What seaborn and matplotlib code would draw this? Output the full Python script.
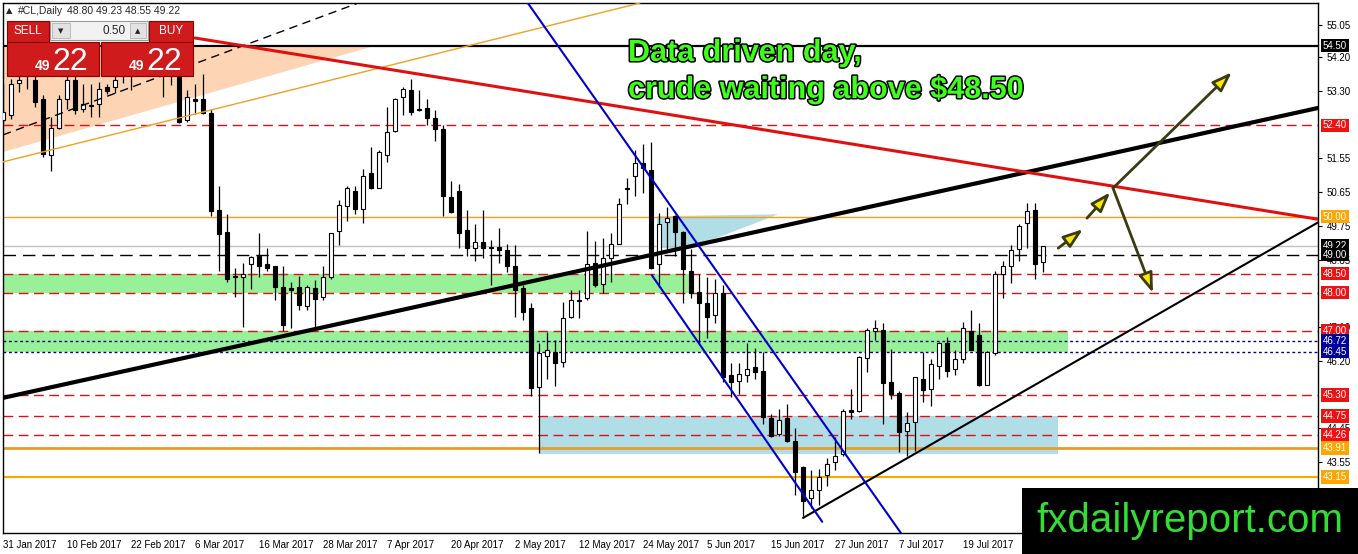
import numpy as np
import pandas as pd
import matplotlib
matplotlib.use("Agg")
import matplotlib.pyplot as plt
import matplotlib.patches as mpatches
import matplotlib.transforms as mtransforms
import matplotlib.patheffects as pe
import seaborn as sns

# ── 1. Daily candles (#CL) ───────────────────────────────────────────────
opens = [52.55, 52.68, 53.51, 53.80, 53.59, 53.09, 51.61, 52.34, 53.09, 53.59,
         52.83, 52.95, 52.96, 53.41, 53.41, 53.90, 54.30, 53.90, 54.40, 54.00,
         54.00, 53.85, 53.75, 52.54, 53.10, 53.10, 52.73, 50.17, 49.60, 48.45,
         48.40, 48.74, 48.97, 48.76, 48.69, 48.14, 48.12, 48.14, 47.65, 48.11,
         47.88, 48.40, 49.63, 50.28, 50.67, 50.20, 51.14, 50.75, 51.63, 52.26,
         53.15, 53.33, 52.80, 52.85, 52.60, 52.30, 50.51, 50.67, 49.65, 49.18,
         49.34, 49.20, 49.20, 49.13, 48.71, 48.12, 47.59, 45.51, 46.34, 46.45,
         46.18, 47.36, 47.78, 47.85, 48.79, 48.22, 48.92, 49.29, 50.72, 51.06,
         51.42, 51.22, 48.74, 49.86, 50.02, 49.60, 48.58, 48.01, 47.72, 47.41,
         47.98, 45.82, 45.68, 45.82, 46.03, 45.95, 44.70, 44.28, 44.70, 44.10,
         43.42, 42.59, 42.80, 43.19, 43.53, 43.76, 44.90, 44.88, 46.29, 46.99,
         47.02, 45.66, 45.35, 44.36, 44.59, 45.72, 45.46, 46.06, 46.68, 46.00,
         46.26, 46.99, 46.89, 45.58, 46.42, 48.50, 48.69, 49.16, 49.84, 50.17,
         48.80]
highs = [53.50, 53.62, 53.80, 54.20, 53.80, 53.20, 52.62, 53.20, 53.90, 53.85,
         53.49, 53.49, 53.54, 53.49, 53.90, 54.50, 54.60, 54.60, 54.60, 54.40,
         54.30, 54.30, 54.00, 53.33, 53.49, 53.75, 52.83, 50.80, 50.07, 48.66,
         48.77, 48.97, 49.57, 49.18, 48.71, 48.71, 48.27, 48.45, 48.20, 48.32,
         48.71, 49.57, 50.43, 50.80, 50.80, 51.24, 51.84, 51.76, 52.88, 53.12,
         53.41, 53.62, 53.33, 53.10, 52.80, 52.40, 50.93, 50.85, 50.17, 49.81,
         50.17, 49.39, 49.70, 49.29, 49.26, 48.19, 47.72, 46.68, 46.97, 46.76,
         47.75, 48.06, 48.06, 49.63, 49.37, 49.44, 49.57, 50.49, 51.01, 51.76,
         51.92, 51.97, 50.09, 50.25, 50.05, 49.63, 49.16, 48.50, 48.40, 48.37,
         48.19, 46.16, 46.16, 46.68, 46.55, 46.45, 44.80, 44.93, 45.06, 44.44,
         43.45, 43.32, 43.37, 43.66, 44.20, 44.93, 45.46, 46.34, 47.07, 47.28,
         47.20, 46.52, 45.40, 44.85, 45.79, 46.44, 46.24, 46.71, 46.84, 46.50,
         47.23, 47.54, 47.20, 46.47, 48.58, 48.84, 49.24, 49.81, 50.35, 50.35,
         49.23]
lows = [52.45, 52.57, 53.28, 53.35, 52.89, 51.58, 51.19, 52.30, 52.83, 52.70,
        52.75, 52.62, 52.62, 53.22, 53.25, 53.52, 53.33, 53.70, 53.80, 53.75,
        53.15, 53.46, 52.46, 52.49, 52.70, 52.70, 50.02, 48.58, 48.27, 47.88,
        47.10, 48.10, 48.40, 48.58, 47.80, 47.00, 47.07, 47.54, 47.54, 47.07,
        47.80, 48.37, 49.24, 49.89, 50.07, 49.84, 50.72, 50.75, 51.45, 52.23,
        52.67, 52.67, 52.78, 52.40, 52.00, 50.02, 50.10, 49.18, 48.97, 48.84,
        48.92, 48.19, 48.79, 48.53, 47.36, 47.28, 45.27, 43.78, 45.72, 45.53,
        46.03, 47.33, 47.33, 47.80, 48.14, 47.98, 48.27, 49.29, 50.33, 50.54,
        50.62, 48.63, 48.14, 49.10, 48.97, 47.72, 47.85, 46.68, 46.81, 47.20,
        45.66, 45.25, 45.33, 45.66, 45.72, 44.54, 44.20, 44.23, 44.07, 42.67,
        42.11, 42.33, 42.41, 42.92, 43.32, 43.70, 44.67, 44.85, 45.92, 46.76,
        44.54, 45.19, 43.81, 43.71, 43.84, 45.12, 45.01, 45.72, 45.77, 45.82,
        46.16, 46.50, 45.53, 45.58, 46.37, 47.85, 48.24, 48.84, 49.18, 48.35,
        48.55]
closes = [52.75, 53.49, 53.59, 54.00, 53.02, 51.66, 52.34, 53.09, 53.59, 52.81,
          52.96, 52.92, 53.36, 53.30, 53.59, 54.30, 53.90, 54.40, 54.00, 54.10,
          53.85, 54.05, 52.49, 53.15, 53.05, 52.72, 50.15, 49.55, 48.37, 48.40,
          48.48, 48.93, 48.71, 48.66, 48.14, 47.15, 48.08, 47.67, 48.14, 47.83,
          48.40, 49.57, 50.30, 50.75, 50.20, 51.06, 50.75, 51.69, 52.23, 53.09,
          53.36, 52.76, 52.83, 52.60, 52.30, 50.54, 50.12, 49.57, 49.18, 49.34,
          49.18, 49.18, 49.13, 48.71, 48.06, 47.49, 45.48, 46.42, 46.50, 46.16,
          47.33, 47.80, 47.80, 48.76, 48.19, 48.92, 49.29, 50.33, 50.75, 51.42,
          51.27, 48.66, 49.81, 49.97, 49.60, 48.61, 47.98, 47.72, 47.36, 47.98,
          45.77, 45.66, 45.87, 45.98, 45.92, 44.72, 44.23, 44.64, 44.10, 43.29,
          42.51, 42.80, 43.16, 43.50, 43.71, 44.88, 44.85, 46.31, 47.02, 47.07,
          45.61, 45.33, 44.33, 44.57, 45.77, 45.43, 46.11, 46.68, 45.95, 46.24,
          47.07, 46.50, 45.58, 46.44, 48.50, 48.69, 49.13, 49.76, 50.15, 48.76,
          49.22]

date_ticks = list(range(0, 121, 8))
date_labels = ["31 Jan 2017", "10 Feb 2017", "22 Feb 2017", "6 Mar 2017",
               "16 Mar 2017", "28 Mar 2017", "7 Apr 2017", "20 Apr 2017",
               "2 May 2017", "12 May 2017", "24 May 2017", "5 Jun 2017",
               "15 Jun 2017", "27 Jun 2017", "7 Jul 2017", "19 Jul 2017"]
# grid prices not hidden under a level box
price_ticks = [55.05, 54.20, 53.30, 51.55, 50.65, 49.75, 48.85,
               47.10, 46.20, 44.45, 43.55, 42.65]

# ── 2. Levels and drawn objects (bar index, price) ───────────────────────
red_levels = [52.40, 48.50, 48.00, 47.00, 45.30, 44.75, 44.26]
navy_levels = [46.72, 46.45]
orange_levels = [50.00, 43.91, 43.15]
black_level = 54.50
bid_level = 49.22
dash_level = 49.00

green_zones = [(48.00, 48.50, 86.1), (46.45, 47.00, 133.1)]
blue_box = (67.1, 131.9, 43.76, 44.75)
peach_x, peach_y = [0, 45.9, 0], [54.44, 54.46, 51.70]
wedge_x, wedge_y = [81.75, 96.9, 85.9, 81.75], [50.01, 50.06, 49.17, 49.17]

black_trend = ([0, 164.4], [45.23, 52.86])
red_trend = ([24.0, 164.4], [54.70, 49.93])
support_trend = ([100.0, 164.4], [42.07, 49.85])
blue_upper = ([65.6, 112.25], [55.62, 41.67])
blue_lower = ([81.1, 102.4], [48.46, 41.97])
dashed_trend = ([0, 44.4], [52.15, 55.62])
orange_trend = ([0, 79.6], [51.44, 55.62])

arrows = [((131.9, 49.17), (135.0, 49.67)),
          ((135.5, 49.96), (138.4, 50.64)),
          ((138.75, 50.75), (153.6, 53.80)),
          ((138.75, 50.75), (143.75, 47.99))]

# ── 3. Figure ────────────────────────────────────────────────────────────
sns.set_theme(style="white")
plt.rcParams['font.family'] = ['Liberation Sans', 'DejaVu Sans']

W, H = 1358, 554
fig = plt.figure(figsize=(W / 100, H / 100), dpi=100, facecolor='white')
ax = fig.add_axes([3 / W, 21 / H, 1315 / W, 530 / H])
ax.set_facecolor('white')
ax.set_xlim(0, 164.375)
ax.set_ylim(41.674, 55.621)

# zones
for lo, hi, x1 in green_zones:
    ax.add_patch(mpatches.Rectangle((0, lo), x1, hi - lo, color='#98f198', lw=0, zorder=0.5))
ax.add_patch(mpatches.Rectangle((blue_box[0], blue_box[2]), blue_box[1] - blue_box[0],
                                blue_box[3] - blue_box[2], color='#b0dde6', lw=0, zorder=0.5))
ax.fill(peach_x, peach_y, color='#fdd5b5', lw=0, zorder=0.5)
ax.fill(wedge_x, wedge_y, color='#b0dde6', lw=0, zorder=0.5)

# horizontal levels
for lv in red_levels:
    ax.axhline(lv, color='#dd1111', lw=1, dashes=(7, 4), zorder=1)
for lv in navy_levels:
    ax.axhline(lv, color='#000080', lw=1, dashes=(2, 2), zorder=1)
ax.axhline(orange_levels[0], color='#f0a020', lw=1, zorder=1)
ax.axhline(orange_levels[1], color='#e0a030', lw=2, zorder=1)
ax.axhline(orange_levels[2], color='#ffa500', lw=1.5, zorder=1)
ax.axhline(black_level, color='black', lw=1.6, zorder=1)
ax.axhline(bid_level, color='#c0c0c0', lw=1, zorder=1)
ax.axhline(dash_level, color='black', lw=1, dashes=(9, 5), zorder=1)

# candles
idx = np.arange(len(opens))
o, h, l, c = map(np.array, (opens, highs, lows, closes))
up = c >= o
ax.vlines(idx, l, h, color='black', lw=0.9, zorder=3)
ax.bar(idx[up], np.maximum(c - o, 0.03)[up], bottom=o[up], width=0.62,
       color='white', edgecolor='black', lw=0.8, zorder=4)
ax.bar(idx[~up], np.maximum(o - c, 0.03)[~up], bottom=c[~up], width=0.62,
       color='black', edgecolor='black', lw=0.8, zorder=4)

# trend lines
trend_style = [(dashed_trend, 'black', 1.0, (6, 4)),
               (orange_trend, '#f0a020', 1.0, None),
               (black_trend, 'black', 3.0, None),
               (red_trend, '#e01010', 2.2, None),
               (support_trend, 'black', 1.5, None),
               (blue_upper, '#0000cc', 1.5, None),
               (blue_lower, '#0000cc', 1.5, None)]
for (xs, ys), col, lw, dsh in trend_style:
    line = sns.lineplot(x=xs, y=ys, ax=ax, color=col, lw=lw, estimator=None, sort=False)
    ln = line.lines[-1]
    ln.set_zorder(5)
    if dsh:
        ln.set_dashes(dsh)

for start, end in arrows:
    ax.annotate('', xy=end, xytext=start, zorder=6,
                arrowprops=dict(arrowstyle='-|>,head_length=1.0,head_width=0.35',
                                facecolor='#ffe800', edgecolor='#3b3b12', lw=2,
                                shrinkA=0, shrinkB=0))

# axes cosmetics
for s in ax.spines.values():
    s.set_color('black')
    s.set_linewidth(1)
ax.yaxis.tick_right()
ax.set_yticks(price_ticks)
ax.set_yticklabels([f"{p:.2f}" for p in price_ticks])
ax.set_xticks(date_ticks)
ax.set_xticklabels(date_labels, ha='left')
ax.tick_params(axis='both', direction='out', length=3, width=0.8, colors='black',
               labelsize=7, pad=2)
ax.tick_params(axis='y', pad=3)
ax.set_xlabel('')
ax.set_ylabel('')

# price-axis label boxes
tr = mtransforms.blended_transform_factory(ax.transAxes, ax.transData)
boxes = ([(black_level, 'black'), (bid_level, 'black'), (dash_level, 'black')] +
         [(lv, '#ee1111') for lv in red_levels] +
         [(lv, '#000099') for lv in navy_levels] +
         [(lv, '#ffa500') for lv in orange_levels])
for lv, col in boxes:
    ax.text(1 + 5 / 1315, lv, f"{lv:.2f}", transform=tr, fontsize=7, color='white',
            va='center', ha='left', clip_on=False, zorder=20,
            bbox=dict(boxstyle='square,pad=0.18', fc=col, ec='none'))

# ── 4. Overlays in pixel space ───────────────────────────────────────────
def frect(x, y, w, hh, **kw):
    fig.add_artist(mpatches.Rectangle((x / W, 1 - (y + hh) / H), w / W, hh / H,
                                      transform=fig.transFigure, **kw))

def ftext(x, y, s, **kw):
    fig.text(x / W, 1 - y / H, s, **kw)

# header
ftext(6, 11, "▲", fontsize=6, va='center', family=['DejaVu Sans'])
ftext(18, 11, "#CL,Daily", fontsize=7.5, va='center')
ftext(67, 11, "48.80 49.23 48.55 49.22", fontsize=7.5, va='center')

# trade panel
red, dred = '#cf1b1b', '#8c0000'
frect(7, 21, 42, 21, fc=red, ec=dred, lw=0.8)
frect(149, 21, 44, 21, fc=red, ec=dred, lw=0.8)
frect(7, 42, 92, 34, fc=red, ec=dred, lw=0.8)
frect(101, 42, 92, 34, fc=red, ec=dred, lw=0.8)
frect(50, 21, 98, 19, fc='#f2f2f2', ec='#9a9a9a', lw=0.8)
frect(52, 23, 18, 15, fc='#e2e2e2', ec='#b5b5b5', lw=0.6)
frect(130, 23, 16, 15, fc='#e2e2e2', ec='#b5b5b5', lw=0.6)
ftext(61, 31, "▼", fontsize=5, ha='center', va='center', family=['DejaVu Sans'])
ftext(138, 31, "▲", fontsize=5, ha='center', va='center', family=['DejaVu Sans'])
ftext(126, 31, "0.50", fontsize=8.5, ha='right', va='center')
ftext(28, 31, "SELL", fontsize=8.5, ha='center', va='center', color='white')
ftext(171, 31, "BUY", fontsize=8.5, ha='center', va='center', color='white')
for x49, x22 in [(35, 52), (129, 146)]:
    ftext(x49, 70, "49", fontsize=10, fontweight='bold', color='white', va='baseline')
    ftext(x22, 70, "22", fontsize=23, color='white', va='baseline')

# headline
stroke = [pe.withStroke(linewidth=2.2, foreground='black')]
ftext(628, 61, "Data driven day,", fontsize=22, fontweight='bold', color='#3dff1a',
      va='baseline', path_effects=stroke)
ftext(628, 98, "crude waiting above $48.50", fontsize=22, fontweight='bold',
      color='#3dff1a', va='baseline', path_effects=stroke)

# watermark
frect(1022, 488, 336, 66, fc='black', ec='none')
ftext(1190, 521, "fxdailyreport.com", fontsize=29, color='#33dd33', ha='center', va='center')

fig.savefig("out.png", dpi=100, facecolor='white')
